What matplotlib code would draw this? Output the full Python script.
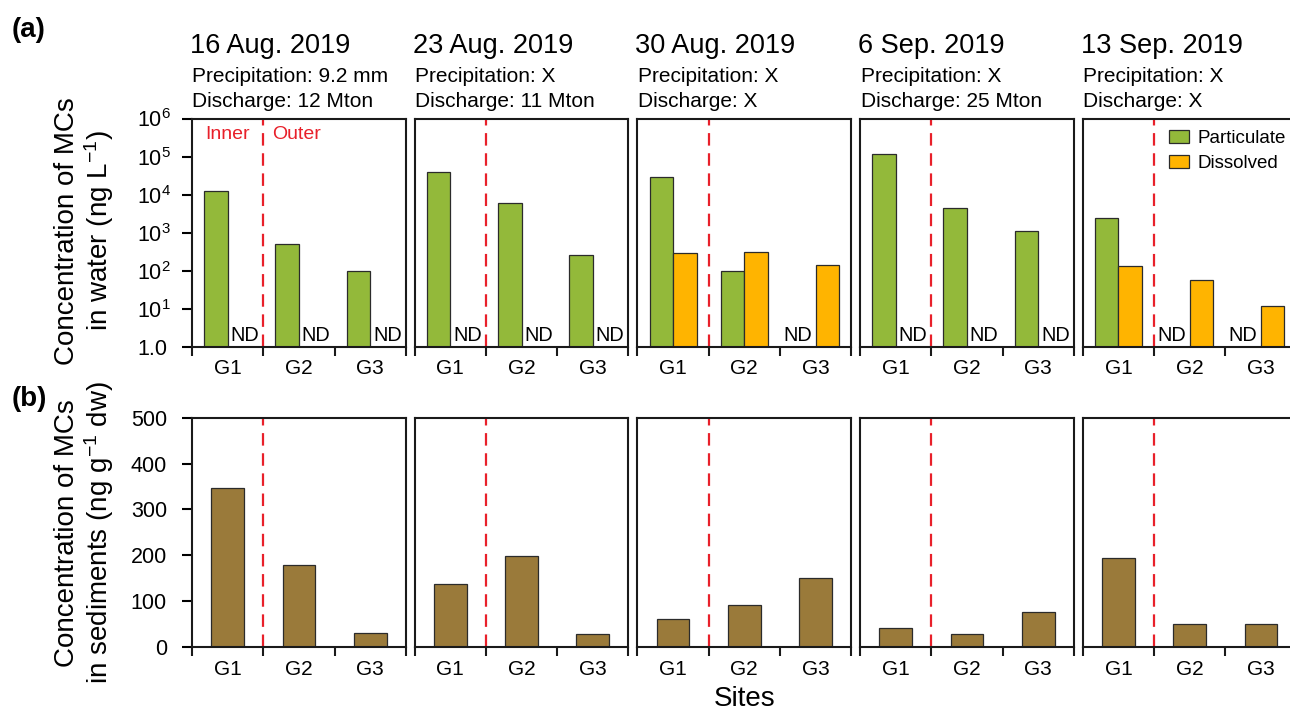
import numpy as np
import matplotlib
matplotlib.use("Agg")
import matplotlib.pyplot as plt
from matplotlib.ticker import FixedLocator, NullLocator, FixedFormatter

plt.rcParams['font.family'] = ['Liberation Sans', 'DejaVu Sans']
plt.rcParams['mathtext.fontset'] = 'custom'
plt.rcParams['mathtext.rm'] = 'Liberation Sans'
plt.rcParams['mathtext.it'] = 'Liberation Sans:italic'
plt.rcParams['mathtext.bf'] = 'Liberation Sans:bold'
plt.rcParams['lines.scale_dashes'] = False

# ---- data ----
dates = ["16 Aug. 2019", "23 Aug. 2019", "30 Aug. 2019", "6 Sep. 2019", "13 Sep. 2019"]
precipitation = ["9.2 mm", "X", "X", "X", "X"]
discharge = ["12 Mton", "11 Mton", "X", "25 Mton", "X"]
sites = ["G1", "G2", "G3"]
nd = np.nan
# microcystins in water (ng/L), nan = not detected
particulate = [
    [12800, 510, 98],
    [39800, 6200, 258],
    [28800, 98, nd],
    [117000, 4600, 1140],
    [2440, nd, nd],
]
dissolved = [
    [nd, nd, nd],
    [nd, nd, nd],
    [293, 323, 147],
    [nd, nd, nd],
    [135, 57, 12],
]
# microcystins in sediments (ng/g dw)
sediment = [
    [346, 179, 29],
    [136, 198, 28],
    [60, 92, 151],
    [41, 27, 75],
    [193, 50, 49],
]
log_ticks = [1, 10, 100, 1e3, 1e4, 1e5, 1e6]
log_labels = ["1.0", "10$^{1}$", "10$^{2}$", "10$^{3}$", "10$^{4}$", "10$^{5}$", "10$^{6}$"]
lin_ticks = [0, 100, 200, 300, 400, 500]

GREEN = "#93b93a"
ORANGE = "#ffb400"
BROWN = "#9a7a3a"
RED = "#e8202a"
EDGE = "#2b2b2b"

W, H = 1290, 712
fig = plt.figure(figsize=(W / 100, H / 100), dpi=100)

left0, step, pw = 192.0, 222.7, 213.8
top_a, base_a = 118.5, 347.3
top_b, base_b = 417.7, 646.7


def frame(ax, pad):
    for s in ("left", "right", "top", "bottom"):
        ax.spines[s].set_linewidth(1.5)
        ax.spines[s].set_color("#1a1a1a")
    ax.set_xlim(-0.5, 2.5)
    ax.xaxis.set_major_locator(FixedLocator([0, 1, 2]))
    ax.xaxis.set_major_formatter(FixedFormatter(sites))
    ax.xaxis.set_minor_locator(FixedLocator([-0.5, 0.5, 1.5, 2.5]))
    ax.tick_params(axis="x", which="major", length=0, pad=pad, labelsize=15)
    ax.tick_params(axis="x", which="minor", length=6.8, width=1.5, direction="out", color="#1a1a1a")
    ax.axvline(0.5, color=RED, lw=1.6, dashes=(9, 5.5), zorder=1)


for i in range(5):
    lpx = left0 + i * step
    # (a) water column
    axa = fig.add_axes([lpx / W, 1 - base_a / H, pw / W, (base_a - top_a) / H])
    frame(axa, 8.5)
    axa.set_yscale("log")
    axa.set_ylim(1, 1e6)
    x = np.arange(3)
    axa.bar(x - 0.165, np.nan_to_num(particulate[i], nan=1.0) - 1, bottom=1, width=0.33,
            color=GREEN, edgecolor=EDGE, linewidth=0.9, label="Particulate", zorder=2)
    axa.bar(x + 0.165, np.nan_to_num(dissolved[i], nan=1.0) - 1, bottom=1, width=0.33,
            color=ORANGE, edgecolor=EDGE, linewidth=0.9, label="Dissolved", zorder=2)
    for j in range(3):
        if np.isnan(particulate[i][j]):
            axa.annotate("ND", (j - 0.05, 1), xytext=(0, 4.5), textcoords="offset points",
                         ha="right", va="baseline", fontsize=14.3)
        if np.isnan(dissolved[i][j]):
            axa.annotate("ND", (j + 0.04, 1), xytext=(0, 4.5), textcoords="offset points",
                         ha="left", va="baseline", fontsize=14.3)
    axa.yaxis.set_minor_locator(NullLocator())
    if i == 0:
        axa.yaxis.set_major_locator(FixedLocator(log_ticks))
        axa.yaxis.set_major_formatter(FixedFormatter(log_labels))
        axa.tick_params(axis="y", which="major", length=7, width=1.5, direction="out",
                        labelsize=15.5, pad=32.6)
        for lab in axa.get_yticklabels():
            lab.set_horizontalalignment("left")
        axa.text(0.271, 0.932, "Inner", transform=axa.transAxes, color=RED,
                 fontsize=14, ha="right", va="center")
        axa.text(0.377, 0.932, "Outer", transform=axa.transAxes, color=RED,
                 fontsize=14, ha="left", va="center")
    else:
        axa.yaxis.set_major_locator(NullLocator())
    if i == 4:
        axa.legend(loc="upper left", bbox_to_anchor=(0.403, 0.95), frameon=False,
                   fontsize=13.5, handlelength=1.08, handleheight=0.72, handletextpad=0.46,
                   labelspacing=0.4, borderpad=0, borderaxespad=0)

    # header texts
    fig.text((lpx - 2) / W, 1 - 53.3 / H, dates[i], fontsize=19.5, ha="left", va="baseline")
    fig.text((lpx + 0.5) / W, 1 - 82.3 / H, "Precipitation: " + precipitation[i],
             fontsize=15, ha="left", va="baseline")
    fig.text((lpx + 0.5) / W, 1 - 107.0 / H, "Discharge: " + discharge[i],
             fontsize=15, ha="left", va="baseline")

    # (b) sediments
    axb = fig.add_axes([lpx / W, 1 - base_b / H, pw / W, (base_b - top_b) / H])
    frame(axb, 9.5)
    axb.set_ylim(0, 500)
    axb.bar(x, sediment[i], width=0.46, color=BROWN, edgecolor=EDGE, linewidth=0.9, zorder=2)
    if i == 0:
        axb.yaxis.set_major_locator(FixedLocator(lin_ticks))
        axb.tick_params(axis="y", which="major", length=7, width=1.5, direction="out",
                        labelsize=15.5, pad=11)
    else:
        axb.yaxis.set_major_locator(NullLocator())
    if i == 2:
        axb.set_xlabel("Sites", fontsize=20, labelpad=5)

fig.text(85 / W, 1 - 231 / H, "Concentration of MCs\nin water (ng L$^{-1}$)",
         rotation=90, fontsize=20, ha="center", va="center", multialignment="center",
         linespacing=1.1)
fig.text(85 / W, 1 - 533 / H, "Concentration of MCs\nin sediments (ng g$^{-1}$ dw)",
         rotation=90, fontsize=20, ha="center", va="center", multialignment="center",
         linespacing=1.1)
fig.text(12 / W, 1 - 30 / H, "(a)", fontsize=20, fontweight="bold", ha="left", va="center")
fig.text(12 / W, 1 - 399 / H, "(b)", fontsize=20, fontweight="bold", ha="left", va="center")

fig.savefig("out.png", dpi=100)
